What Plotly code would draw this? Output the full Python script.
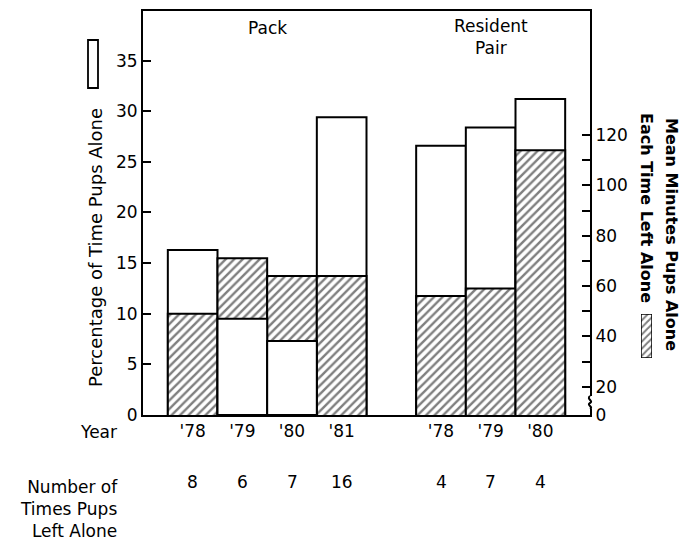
import plotly.graph_objects as go

# ---------------- data ----------------
group_names = ["Pack", "Resident<br>Pair"]
pack_years = ["'78", "'79", "'80", "'81"]
pair_years = ["'78", "'79", "'80"]
pack_pct_alone = [16.3, 9.5, 7.3, 29.4]        # % of time pups alone (open bars, left axis)
pair_pct_alone = [26.6, 28.4, 31.2]
pack_mean_minutes = [49, 71, 64, 64]            # mean minutes alone each time (hatched, right axis)
pair_mean_minutes = [56, 59, 114]
pack_times_left = [8, 6, 7, 16]
pair_times_left = [4, 7, 4]

# ---------------- layout helpers ----------------
W, H = 680, 542
FONT = "DejaVu Sans"
def px(x):
    return x / W
def py(y):
    return 1 - y / H

years = pack_years + pair_years
pct = pack_pct_alone + pair_pct_alone
mins = pack_mean_minutes + pair_mean_minutes
counts = pack_times_left + pair_times_left
xpos = list(range(len(pack_years))) + [len(pack_years) + 1 + i for i in range(len(pair_years))]
group_centers = [sum(xpos[:len(pack_years)]) / len(pack_years),
                 sum(xpos[len(pack_years):]) / len(pair_years)]

y_range = [0, 39.9]
y2_range = [8.76, 169.3]
x_range = [-1, 8]

def frac(v, r):
    return (v - r[0]) / (r[1] - r[0])

front_white = [p if frac(p, y_range) < frac(m, y2_range) else None for p, m in zip(pct, mins)]

outline = dict(color="black", width=2)
hatch = dict(shape="/", fgcolor="black", bgcolor="white", size=6, solidity=0.4)

fig = go.Figure()
# open bars (back layer)
fig.add_trace(go.Bar(x=xpos, y=pct, width=1, marker=dict(color="white", line=outline),
                     xaxis="x", yaxis="y", showlegend=False))
# hatched bars (minutes, right axis)
fig.add_trace(go.Bar(x=xpos, y=mins, width=1,
                     marker=dict(color="white", line=outline, pattern=hatch),
                     xaxis="x", yaxis="y2", showlegend=False))
# open bars that are shorter than the hatched ones go in front
fig.add_trace(go.Bar(x=xpos, y=front_white, width=1, marker=dict(color="white", line=outline),
                     xaxis="x", yaxis="y3", showlegend=False))
# hatched legend swatch
fig.add_trace(go.Bar(x=[0], y=[1], width=1, cliponaxis=False,
                     marker=dict(color="white", line=dict(color="black", width=1.5),
                                 pattern=dict(shape="/", fgcolor="black", bgcolor="white", size=5, solidity=0.4)),
                     xaxis="x2", yaxis="y4", showlegend=False, hoverinfo="skip"))

dom_x = [px(143), px(590)]
dom_y = [py(415), py(11)]

fig.update_layout(
    width=W, height=H, autosize=False,
    margin=dict(l=0, r=0, t=0, b=0, pad=0, autoexpand=False),
    paper_bgcolor="white", plot_bgcolor="rgba(0,0,0,0)",
    barmode="overlay", showlegend=False,
    font=dict(family=FONT, size=17, color="black"),
    xaxis=dict(domain=dom_x, range=x_range, showline=True, mirror=True, linecolor="black",
               linewidth=2, showgrid=False, zeroline=False, ticks="", automargin=False,
               tickvals=xpos, ticktext=years, tickfont=dict(size=17), anchor="y"),
    yaxis=dict(domain=dom_y, range=y_range, showline=True, linecolor="black", linewidth=2,
               showgrid=False, zeroline=False, ticks="inside", ticklen=8, tickwidth=2,
               tickcolor="black", tickvals=list(range(0, 36, 5)), tickfont=dict(size=17),
               anchor="x", automargin=False),
    yaxis2=dict(overlaying="y", side="right", anchor="x", range=y2_range, showline=True,
                linecolor="black", linewidth=2, showgrid=False, zeroline=False,
                ticks="inside", ticklen=8, tickwidth=2, tickcolor="black", automargin=False,
                tickvals=[y2_range[0]] + list(range(20, 121, 10)),
                ticktext=["0"] + [str(v) if v % 20 == 0 else "" for v in range(20, 121, 10)],
                tickfont=dict(size=17)),
    yaxis3=dict(overlaying="y", range=y_range, visible=False, anchor="x", automargin=False),
    xaxis2=dict(domain=[px(641), px(652)], range=[-0.5, 0.5], visible=False, anchor="y4",
                automargin=False),
    yaxis4=dict(domain=[py(358), py(314)], range=[0, 1], visible=False, anchor="x2",
                automargin=False),
)

ann = []
def note(x, y, text, xref="paper", size=17, **kw):
    d = dict(x=x, y=y, xref=xref, yref="paper", text=text, showarrow=False,
             yanchor="middle", font=dict(size=size))
    d.update(kw)
    ann.append(d)

for i, g in enumerate(group_names):
    note(group_centers[i], py(37 if i else 28), g, xref="x", size=17)
for x, c in zip(xpos, counts):
    note(x, py(482), str(c), xref="x")
note(px(119), py(432), "Year", xanchor="right")
note(px(120), py(509), "Number of<br>Times Pups<br>Left Alone", align="right", xanchor="right")
note(px(95), py(248), "Percentage of Time Pups Alone", size=18, textangle=-90, xanchor="center")
note(px(671), py(234), "<b>Mean Minutes Pups Alone</b>", size=16, textangle=90, xanchor="center")
note(px(647), py(208), "<b>Each Time Left Alone</b>", size=16, textangle=90, xanchor="center")
fig.update_layout(annotations=ann)

# legend swatch for open bars + axis break mark
shapes = [
    dict(type="rect", xref="paper", yref="paper", x0=px(88), x1=px(98), y0=py(88), y1=py(40),
         line=dict(color="black", width=1.8), fillcolor="white"),
    dict(type="rect", xref="paper", yref="paper", x0=px(586), x1=px(594), y0=py(409), y1=py(396),
         line=dict(width=0), fillcolor="white", layer="above"),
    dict(type="path", xref="paper", yref="paper", layer="above",
         path=f"M {px(590)},{py(396)} C {px(586)},{py(399)} {px(594)},{py(401)} {px(590)},{py(403)} "
              f"C {px(586)},{py(405)} {px(594)},{py(407)} {px(590)},{py(409)}",
         line=dict(color="black", width=2)),
]
fig.update_layout(shapes=shapes)

fig.write_html("out.html")
